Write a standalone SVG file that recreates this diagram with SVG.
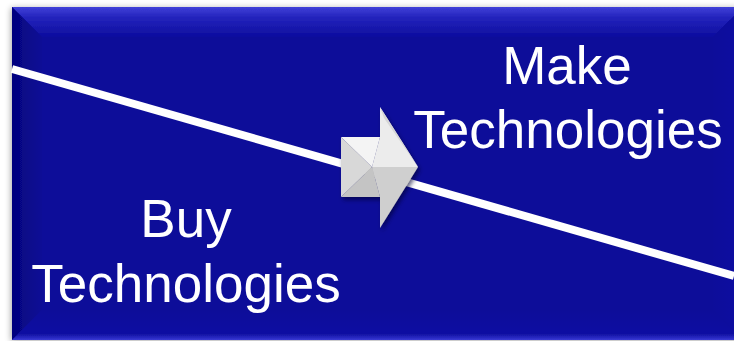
<svg xmlns="http://www.w3.org/2000/svg" width="734" height="341" viewBox="0 0 734 341">
  <defs>
    <style>
      .label { font-family: "Liberation Sans", Arial, sans-serif; font-size: 53px; fill: #ffffff; text-anchor: middle; }
      .divider { stroke: #ffffff; stroke-width: 8; fill: none; }
    </style>
    <linearGradient id="topBevel" x1="0" y1="0" x2="0" y2="1">
      <stop offset="0" stop-color="#4040d8"/>
      <stop offset="0.35" stop-color="#2424bc"/>
      <stop offset="1" stop-color="#0d0d9e"/>
    </linearGradient>
    <linearGradient id="leftBevel" x1="0" y1="0" x2="1" y2="0">
      <stop offset="0" stop-color="#05057e"/>
      <stop offset="1" stop-color="#0a0a96"/>
    </linearGradient>
    <linearGradient id="bottomBevel" x1="0" y1="0" x2="0" y2="1">
      <stop offset="0" stop-color="#0a0a99"/>
      <stop offset="0.8" stop-color="#0f0fa2"/>
      <stop offset="1" stop-color="#3a3ad4"/>
    </linearGradient>
    <linearGradient id="rightBevel" x1="0" y1="0" x2="1" y2="0">
      <stop offset="0" stop-color="#0b0b9a"/>
      <stop offset="1" stop-color="#1010a2"/>
    </linearGradient>
    <filter id="panelShadow" x="-5%" y="-5%" width="110%" height="110%">
      <feGaussianBlur in="SourceAlpha" stdDeviation="3"/>
      <feOffset dx="-1" dy="1" result="b"/>
      <feComponentTransfer><feFuncA type="linear" slope="0.35"/></feComponentTransfer>
      <feMerge><feMergeNode/><feMergeNode in="SourceGraphic"/></feMerge>
    </filter>
    <filter id="arrowShadow" x="-20%" y="-20%" width="140%" height="140%">
      <feDropShadow dx="2" dy="3" stdDeviation="2" flood-color="#000033" flood-opacity="0.6"/>
    </filter>
  </defs>

  <rect x="0" y="0" width="734" height="341" fill="#ffffff"/>

  <g id="panel" filter="url(#panelShadow)">
    <rect x="12" y="7" width="731" height="333" fill="#0a0a99"/>
    <polygon points="12,7 743,7 713,37 42,37" fill="url(#topBevel)"/>
    <polygon points="12,7 42,37 42,310 12,340" fill="url(#leftBevel)"/>
    <polygon points="12,340 42,310 713,310 743,340" fill="url(#bottomBevel)"/>
    <polygon points="743,7 743,340 713,310 713,37" fill="url(#rightBevel)"/>
  </g>

  <g id="connectors">
    <line class="divider" x1="12" y1="69" x2="734" y2="276"/>
  </g>

  <g id="arrow" filter="url(#arrowShadow)">
    <polygon points="380,107 418,167 372,167 380,137" fill="#ececec"/>
    <polygon points="341,137 380,137 372,167" fill="#f4f4f4"/>
    <polygon points="341,137 372,167 341,197" fill="#d8d8d8"/>
    <polygon points="341,197 372,167 380,197" fill="#c4c4c4"/>
    <polygon points="380,197 372,167 418,167 380,228" fill="#cfcfcf"/>
    <polygon points="380,107 384,118 418,167" fill="#d6d6d6"/>
  </g>

  <g id="make-label">
    <text class="label" x="567" y="84">Make</text>
    <text class="label" x="568" y="148">Technologies</text>
  </g>

  <g id="buy-label">
    <text class="label" x="186" y="237">Buy</text>
    <text class="label" x="186" y="302">Technologies</text>
  </g>
</svg>
